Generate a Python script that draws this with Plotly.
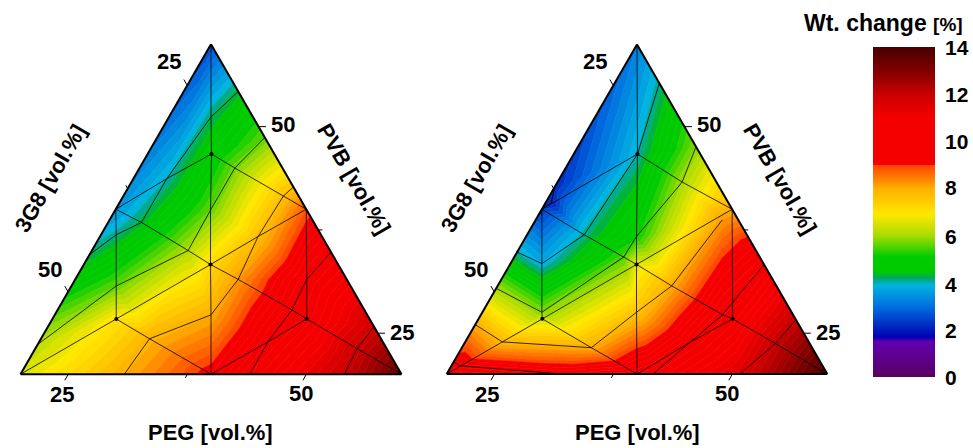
import math
import plotly.graph_objects as go

# ---------- left ternary: mesh vertices ----------
L_PVB = [60,20,20,54.2,51.2,46.7,43.7,40,38.4,36.9,34.5,30.7,23.6,26.7,35,39.9,45,48.7,33.3,24.3,20,27.2,20,31.5,36.7,41.6,42.7,40,34.8,31.5,27.8,26.7,23.9,20,20,23.1,25.8]
L_PEG = [20,20,60,25.7,24.4,26.7,23.5,20,23.5,21.6,20,24.7,20,26.7,30.1,30,30,31.3,33.3,31.4,30.9,36.4,40,37.1,36.6,36.8,37.3,40,45.2,44.3,44.6,46.7,44,44.1,54,53.8,54.2]
L_WT  = [2.6,6.5,13.4,4.3,4.2,4.8,4.0,3.5,4.3,4.1,4.2,5.6,6.2,7.0,6.1,5.6,5.7,5.6,7.2,7.9,8.0,8.0,9.2,8.2,7.7,7.7,7.6,8.8,10,10,10,10.3,10,10.2,11.9,11.9,11.8]
L_PATHS = [[0,4,5,15,18,21,22],[7,6,5],[3,4,6,8],[7,8,14,18],[10,9,8],[7,9,11,13],[12,11,14],
           [1,13,18],[13,19,22],[20,19,21,23,24,25,26],[18,23,30,31],[31,35,2],[22,32,31],
           [33,32,30,29,28],[34,35,36],[27,29,31],[14,15,16,17],[5,16,25,27],[18,24,27]]
L_NODES = [5,13,18,31]

# ---------- right ternary ----------
R_PVB = [60,20,20,55.3,46.7,42.7,40.8,40,36.9,33.4,34.8,30.4,27.5,26.7,26,23.9,23.2,20,21,21.5,20,27.5,33.3,34.2,36.7,43.3,47.6,40,38.7,30.7,33.3,26.7,27.2,23.8,20,23.7,26.6,20]
R_PEG = [20,20,60,24.7,26.7,20,20.6,20,26,23.3,20,20,26.25,26.7,20,23.9,33.6,32.2,20.9,20,40,36.2,33.3,31.5,31.6,33.1,32.4,40,39.6,38.3,46.7,46.7,45.4,43.6,41.7,52.7,53.4,50.8]
R_WT  = [3.2,10,13.9,4.1,4.0,2.2,2.1,2.4,4.1,3.8,4.0,6.0,5.8,6.4,8.0,7.8,8.0,9.6,9.5,9.3,10,7.6,6.6,5.5,5.1,6.0,5.8,8.0,8.2,8.0,10,10.3,10.2,10,10.2,12,12,11.5]
R_PATHS = [[0,4,24,22,21,20],[7,4],[4,3],[4,8],[5,6,7],[7,8,23,22],[7,9,12,13],[10,9,8],[11,12,23],
           [13,22],[14,15,16,21,29,28],[1,15,13],[13,16,20],[19,18,17],[25,26],[4,25,27],[25,24,23],
           [22,27],[22,29,32,31],[31,35,2],[37,35,36],[27,31],[20,33,32,30],[34,33,31]]
R_NODES = [4,13,22,31]

# ---------- colour scale ----------
STOP_VAL = [0,1.5,1.7,3.0,3.9,4.2,4.46,5.1,6.0,6.9,8.0,9.0,9.0,11.0,12.0,13.0,14.0]
STOP_HEX = ["#5a0060","#6000b0","#0000b0","#0070e0","#00b4e0","#00a860","#00c800","#00cc00","#a8dc00",
            "#ffe800","#ffb000","#ff4000","#f50000","#f50000","#c80000","#800000","#480000"]
CB_TICKS = [0,2,4,6,8,10,12,14]
CB_TICK_Y = [377,330,284,236,188,141,95,48]
TICK_VALUES = [25,37.5,50]
TICK_LABELS = ["25","50"]
LEVEL_STEP = 0.2
FONT = "Liberation Sans"
W, H = 973, 448


def px(x): return x/W
def py(y): return (448-y)/H

def rgb(h):
    return tuple(int(h[i:i+2],16) for i in (1,3,5))

def colour(v):
    for i in range(len(STOP_VAL)-1):
        v0,v1 = STOP_VAL[i],STOP_VAL[i+1]
        if v0 <= v < v1:
            t=(v-v0)/(v1-v0)
            a,b=rgb(STOP_HEX[i]),rgb(STOP_HEX[i+1])
            return "rgb(%d,%d,%d)"%tuple(round(a[k]+(b[k]-a[k])*t) for k in range(3))
    return STOP_HEX[-1]

def delaunay(xs,ys):
    n=len(xs); out=[]
    for i in range(n):
        for j in range(i+1,n):
            for k in range(j+1,n):
                ax,ay,bx,by,cx,cy=xs[i],ys[i],xs[j],ys[j],xs[k],ys[k]
                d=2*(ax*(by-cy)+bx*(cy-ay)+cx*(ay-by))
                if abs(d)<1e-6: continue
                s1,s2,s3=ax*ax+ay*ay,bx*bx+by*by,cx*cx+cy*cy
                ux=(s1*(by-cy)+s2*(cy-ay)+s3*(ay-by))/d
                uy=(s1*(cx-bx)+s2*(ax-cx)+s3*(bx-ax))/d
                r=(ax-ux)**2+(ay-uy)**2
                if all(m in (i,j,k) or (xs[m]-ux)**2+(ys[m]-uy)**2>=r-1e-6 for m in range(n)):
                    out.append((i,j,k))
    return out

def clip(poly,lo,hi):
    def cut(pts,keep,lvl):
        res=[]
        for p,q in zip(pts,pts[1:]+pts[:1]):
            kp,kq=keep(p[2]),keep(q[2])
            if kp: res.append(p)
            if kp!=kq:
                t=(lvl-p[2])/(q[2]-p[2])
                res.append((p[0]+t*(q[0]-p[0]),p[1]+t*(q[1]-p[1]),lvl))
        return res
    pts=cut(poly,lambda v:v>=lo,lo)
    return cut(pts,lambda v:v<=hi,hi) if pts else []

def add_panel(fig,sub,pvb,peg,wt,paths,nodes):
    gx=[c+a/2 for a,c in zip(pvb,peg)]
    gy=[a*math.sqrt(3)/2 for a in pvb]
    tris=delaunay(gx,gy)
    n=int(round(14/LEVEL_STEP))
    for b in range(n):
        lo,hi=b*LEVEL_STEP,(b+1)*LEVEL_STEP
        A,C=[],[]
        for t in tris:
            poly=clip([(pvb[i],peg[i],wt[i]) for i in t],lo,hi)
            if len(poly)>=3:
                for p in poly+poly[:1]:
                    A.append(p[0]);C.append(p[1])
                A.append(None);C.append(None)
        if not A: continue
        col=colour((lo+hi)/2)
        B=[None if a is None else 100-a-c for a,c in zip(A,C)]
        fig.add_trace(go.Scatterternary(a=A,b=B,c=C,mode="lines",fill="toself",fillcolor=col,
            line=dict(color=col,width=0.6),subplot=sub,hoverinfo="skip",showlegend=False))
    A,C=[],[]
    for path in paths:
        A+= [pvb[i] for i in path]+[None]
        C+= [peg[i] for i in path]+[None]
    B=[None if a is None else 100-a-c for a,c in zip(A,C)]
    fig.add_trace(go.Scatterternary(a=A,b=B,c=C,mode="lines",line=dict(color="rgba(0,0,0,0.78)",width=1),
        subplot=sub,hoverinfo="skip",showlegend=False))
    fig.add_trace(go.Scatterternary(a=[pvb[i] for i in nodes],c=[peg[i] for i in nodes],
        b=[100-pvb[i]-peg[i] for i in nodes],mode="markers",marker=dict(color="black",size=4),
        subplot=sub,hoverinfo="skip",showlegend=False))

def tick_shapes(x0,x1):
    # outer tick marks, running along the iso-lines of each component
    def page(a,c):
        return (px(x0+(c-20+(a-20)/2)/40*(x1-x0)), py(374.5-(a-20)/40*330.5))
    out=[]
    for v in TICK_VALUES:
        d=0.7 if v!=37.5 else 0.4
        for (a0,c0,a1,c1) in [(80-v,20,80-v+d,20-d),      # 3G8, left edge
                              (20,v,20-d,v),              # PEG, bottom edge
                              (v,80-v,v,80-v+d*1.1)]:     # PVB, right edge
            xa,ya=page(a0,c0); xb,yb=page(a1,c1)
            out.append(dict(type="line",xref="paper",yref="paper",x0=xa,y0=ya,x1=xb,y1=yb,
                            line=dict(color="black",width=1)))
    return out

fig=go.Figure()
add_panel(fig,"ternary",L_PVB,L_PEG,L_WT,L_PATHS,L_NODES)
add_panel(fig,"ternary2",R_PVB,R_PEG,R_WT,R_PATHS,R_NODES)

fig.add_trace(go.Scatterternary(a=[20,20],b=[40,40],c=[40,40],mode="markers",subplot="ternary",hoverinfo="skip",
    showlegend=False,marker=dict(size=1,opacity=0,color=[0,14],cmin=0,cmax=14,
    colorscale=[[v/14,h] for v,h in zip(STOP_VAL,STOP_HEX)],
    colorbar=dict(x=px(873),xanchor="left",xpad=0,y=py(212),yanchor="middle",ypad=0,
        len=330,lenmode="pixels",thickness=62,thicknessmode="pixels",outlinewidth=0,
        tickvals=CB_TICKS,ticks="",showticklabels=False))))

def axis():
    return dict(min=20,title=dict(text=""),ticks="",showticklabels=False,showgrid=False,showline=True,
        linecolor="black",linewidth=2)

def ternary(x0,x1):
    return dict(sum=100,bgcolor="white",domain=dict(x=[px(x0),px(x1)],y=[py(374.5),py(44)]),
        aaxis=axis(),baxis=axis(),caxis=axis())

def note(text,x,y,rot=0,size=22,anchor="center"):
    return dict(text=text,x=px(x),y=py(y),xref="paper",yref="paper",showarrow=False,textangle=rot,
        xanchor=anchor,yanchor="middle",font=dict(family=FONT,size=size,color="black",weight="bold"))

notes=[note("PEG [vol.%]",210,432),note("3G8 [vol.%]",50,178,-60),note("PVB [vol.%]",354,178,60),
       note("PEG [vol.%]",637,432),note("3G8 [vol.%]",476,178,-60),note("PVB [vol.%]",780,178,60),
       note('Wt. change <span style="font-size:19px">[%]</span>',883.5,23,size=23)]
# tick labels: (3G8 25, 3G8 50, PEG 25, PEG 50, PVB 50, PVB 25) for each panel
for dx in (0,425.5):
    for lab,x,y in [(TICK_LABELS[0],169,62),(TICK_LABELS[1],50,269),(TICK_LABELS[0],62,394),
                    (TICK_LABELS[1],301,393),(TICK_LABELS[1],283,125),(TICK_LABELS[0],402,332)]:
        notes.append(note(lab,x+dx,y))
for v,y in zip(CB_TICKS,CB_TICK_Y):
    notes.append(note(str(v),943,y,size=21,anchor="left"))

fig.update_layout(width=W,height=H,margin=dict(l=0,r=0,t=0,b=0,autoexpand=False),paper_bgcolor="white",
    ternary=ternary(20.5,401.5),ternary2=ternary(446.7,827.3),annotations=notes,
    shapes=tick_shapes(20.5,401.5)+tick_shapes(446.7,827.3))
fig.write_html("out.html",config={"displayModeBar":False},
               post_script="document.body.style.margin='0';document.documentElement.style.overflow='hidden';")
